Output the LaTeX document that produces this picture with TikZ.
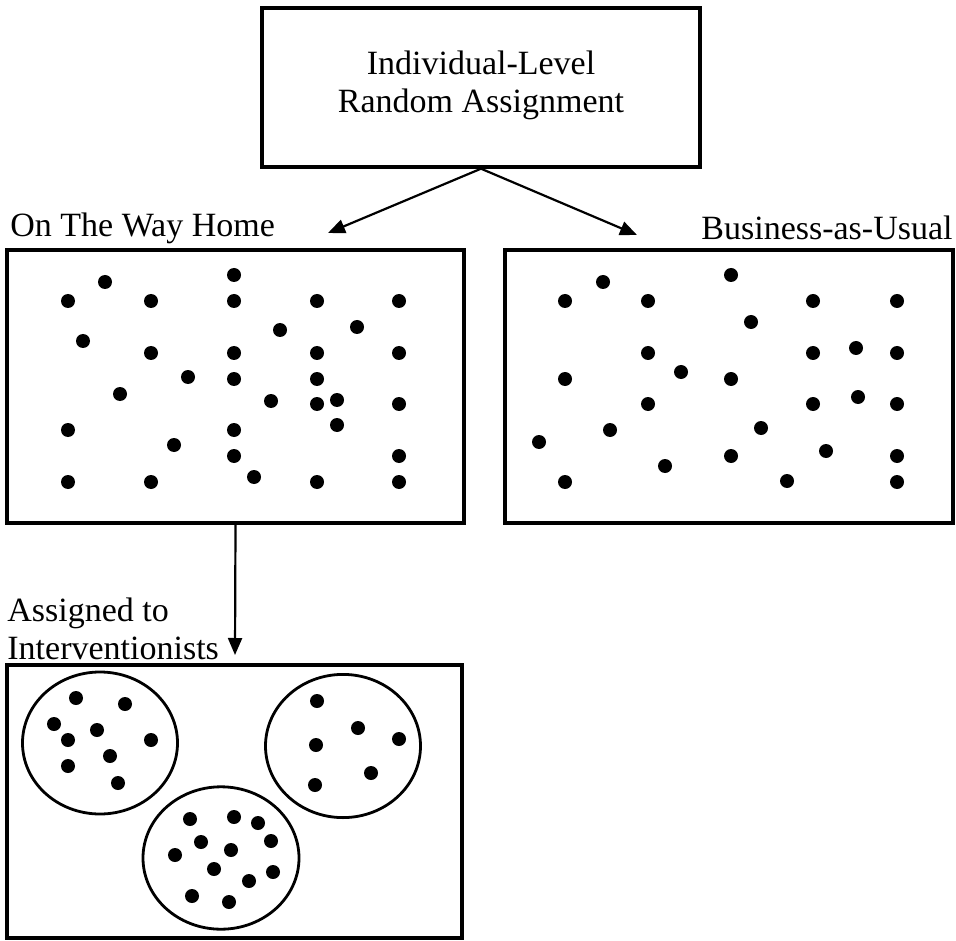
\documentclass[tikz,border=0pt]{standalone}
\usepackage{fontspec}
\setmainfont{Liberation Serif}
\usetikzlibrary{arrows.meta}
\begin{document}
\begin{tikzpicture}[x=0.5pt,y=-0.5pt,
    box/.style={draw,line width=1.7pt,rectangle,inner sep=0pt},
    label/.style={font=\fontsize{17}{19}\selectfont,inner sep=0pt},
    arr/.style={line width=1.1pt,-{Triangle[length=8.5pt,width=7pt]}},
    group/.style={line width=1.4pt}]
    \useasboundingbox (0,0) rectangle (956,940);
    % boxes
    \node[box,minimum width=219pt,minimum height=79.5pt] (top) at (481,87.5) {};
    \node[box,minimum width=228.5pt,minimum height=136.5pt] (home) at (235.5,386.5) {};
    \node[box,minimum width=224pt,minimum height=136.5pt] (usual) at (729,386.5) {};
    \node[box,minimum width=227.5pt,minimum height=136.5pt] (interv) at (234.5,801.5) {};
    % texts
    \node[label,align=center] (toptext) at (481,85) {Individual-Level\\Random Assignment};
    \node[label,anchor=west] (hometext) at (10,228) {On The Way Home};
    \node[label,anchor=east] (usualtext) at (953,228) {Business-as-Usual};
    \node[label,anchor=west,align=left] (intervtext) at (7,629) {Assigned to\\Interventionists};
    % arrows
    \coordinate (tipl) at (328,233);
    \coordinate (tipr) at (637,235);
    \coordinate (tipd) at (235,655);
    \draw[arr] (top.south) -- (tipl);
    \draw[arr] (top.south) -- (tipr);
    \draw[arr] (home.south) -- (tipd);
    % people
    \foreach \x/\y in {105/282,234/275,68/301,151/301,234/301,317/301,399/301,280/330,357/327,
        83/341,151/353,234/353,317/353,399/353,188/377,234/379,317/379,120/394,271/401,
        317/404,337/400,399/404,337/425,68/430,234/430,174/445,234/456,399/456,254/477,
        68/482,151/482,317/482,399/482}
        \fill (\x,\y) circle (3.5pt);
    \foreach \x/\y in {603/282,731/275,565/301,648/301,813/301,897/301,751/322,648/353,
        813/353,856/348,897/353,681/372,565/379,731/379,648/404,813/404,858/397,897/404,
        610/430,761/428,539/442,731/456,826/451,897/456,665/466,565/482,787/481,897/482}
        \fill (\x,\y) circle (3.5pt);
    % groups
    \draw[group] (100,743) ellipse [x radius=38.75pt,y radius=35.5pt];
    \draw[group] (343,746) ellipse [x radius=38.75pt,y radius=35.8pt];
    \draw[group] (221,858) ellipse [x radius=39pt,y radius=35.6pt];
    \foreach \x/\y in {76/698,125/704,54/724,97/730,68/740,151/740,110/756,68/766,118/783,
        317/701,358/728,399/739,316/745,371/773,315/785,
        190/819,234/817,258/823,201/842,231/850,271/841,175/855,214/869,273/872,249/881,
        192/896,229/902}
        \fill (\x,\y) circle (3.5pt);
\end{tikzpicture}
\end{document}
